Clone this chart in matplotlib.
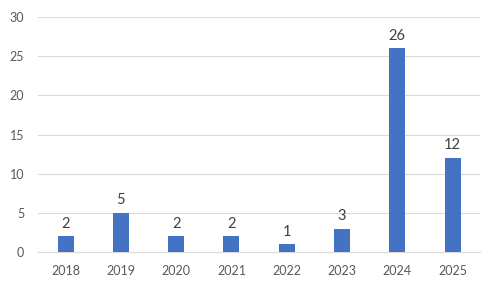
import matplotlib.pyplot as plt

# Daten
jahre = ['2018', '2019', '2020', '2021', '2022', '2023', '2024', '2025']
anzahl = [2, 5, 2, 2, 1, 3, 26, 12]

plt.rcParams['font.family'] = ['Lato', 'DejaVu Sans']

fig = plt.figure(figsize=(4.98, 2.9), dpi=100)
ax = fig.add_axes([0.0763, 0.131, 0.888, 0.81])

bars = ax.bar(jahre, anzahl, width=0.29, color='#4472C4', zorder=3)
ax.bar_label(bars, padding=4, fontsize=10.5, color='#404040')

ax.set_ylim(0, 30)
ax.set_xlim(-0.5, len(jahre) - 0.5)
ax.set_yticks(range(0, 31, 5))
ax.grid(axis='y', color='#D9D9D9', linewidth=0.8, zorder=0)
for s in ['top', 'right', 'left']:
    ax.spines[s].set_visible(False)
ax.spines['bottom'].set_color('#D9D9D9')
ax.tick_params(length=0, labelsize=9, labelcolor='#595959')
ax.tick_params(axis='x', pad=9)
ax.tick_params(axis='y', pad=10)

fig.savefig('out.png', dpi=100)
